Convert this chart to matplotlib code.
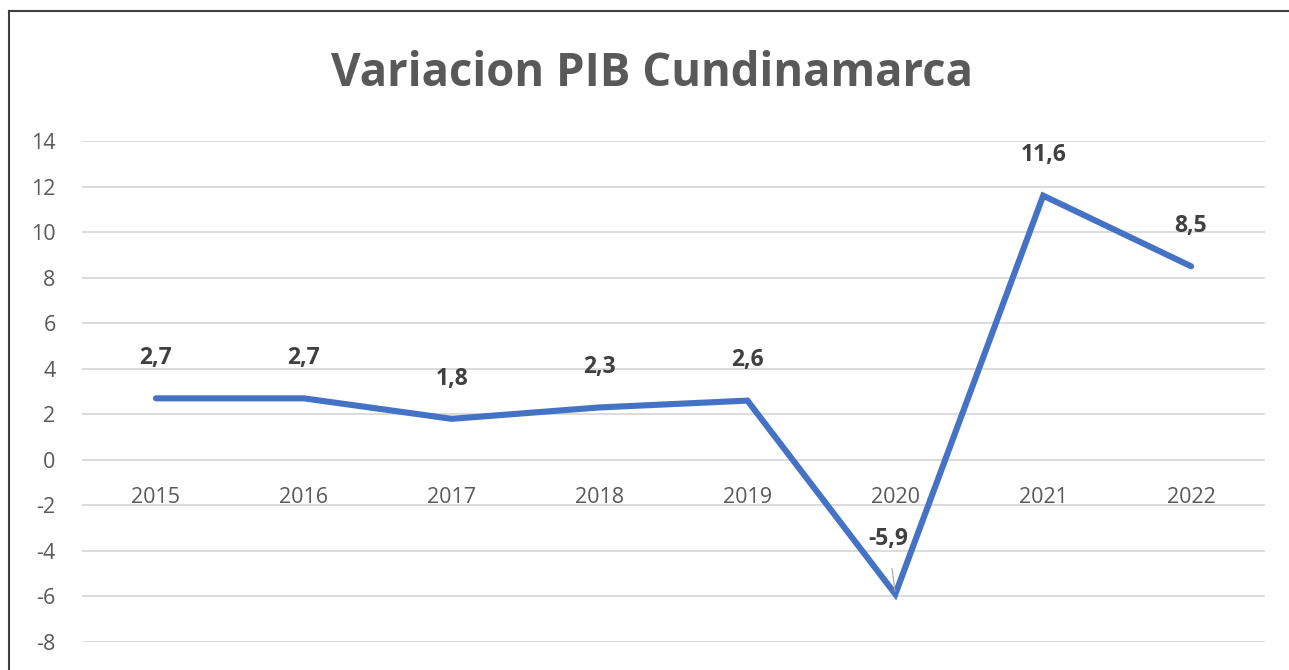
import matplotlib
matplotlib.use("Agg")
import matplotlib.pyplot as plt
from matplotlib.lines import Line2D

years = ["2015", "2016", "2017", "2018", "2019", "2020", "2021", "2022"]
pib_var = [2.7, 2.7, 1.8, 2.3, 2.6, -5.9, 11.6, 8.5]
labels = ["2,7", "2,7", "1,8", "2,3", "2,6", "-5,9", "11,6", "8,5"]
y_ticks = [14, 12, 10, 8, 6, 4, 2, 0, -2, -4, -6, -8]

plt.rcParams['font.family'] = ['Open Sans', 'DejaVu Sans']

fig = plt.figure(figsize=(12.89, 6.70), dpi=100)
ax = fig.add_axes([82 / 1289, 28 / 670, 1183 / 1289, 501 / 670])

x = list(range(len(years)))
ax.plot(x, pib_var, color='#4472C4', linewidth=4.4, solid_capstyle='round',
        solid_joinstyle='miter', zorder=3)

ax.set_xlim(-0.5, len(years) - 0.5)
ax.set_ylim(-8, 14)
ax.set_yticks(y_ticks)
ax.set_yticklabels([str(t) for t in y_ticks])
ax.grid(axis='y', color='#D9D9D9', linewidth=1.3)
ax.set_axisbelow(True)
for s in ['top', 'right', 'left', 'bottom']:
    ax.spines[s].set_visible(False)

# category labels sit next to the zero line, as in Excel
ax.spines['bottom'].set_position(('data', 0))
ax.set_xticks(x)
ax.set_xticklabels(years)
ax.tick_params(axis='x', length=0, pad=19.5, labelsize=15.5, labelcolor='#595959')
ax.tick_params(axis='y', length=0, pad=19, labelsize=15.5, labelcolor='#595959')

for i, (v, lab) in enumerate(zip(pib_var, labels)):
    if v < 0:
        ax.annotate(lab, (i, v), xytext=(-5, 40), textcoords='offset points',
                    ha='center', va='center', fontsize=16.5, fontweight='bold',
                    color='#404040',
                    arrowprops=dict(arrowstyle='-', color='#A6A6A6', lw=0.8,
                                    shrinkA=11, shrinkB=2))
    else:
        ax.annotate(lab, (i, v), xytext=(0, 29), textcoords='offset points',
                    ha='center', va='center', fontsize=16.5, fontweight='bold',
                    color='#404040')

fig.text(0.506, 1 - 74 / 670, "Variacion PIB Cundinamarca", ha='center', va='center',
         fontsize=32.8, fontweight='bold', color='#595959')

# chart border (left and top visible in the crop)
fig.add_artist(Line2D([9 / 1289, 9 / 1289], [0, 1 - 11 / 670], transform=fig.transFigure,
                      color='#3F3F3F', linewidth=1.5))
fig.add_artist(Line2D([9 / 1289, 1], [1 - 11 / 670, 1 - 11 / 670], transform=fig.transFigure,
                      color='#3F3F3F', linewidth=1.5))

fig.savefig("out.png", dpi=100)
